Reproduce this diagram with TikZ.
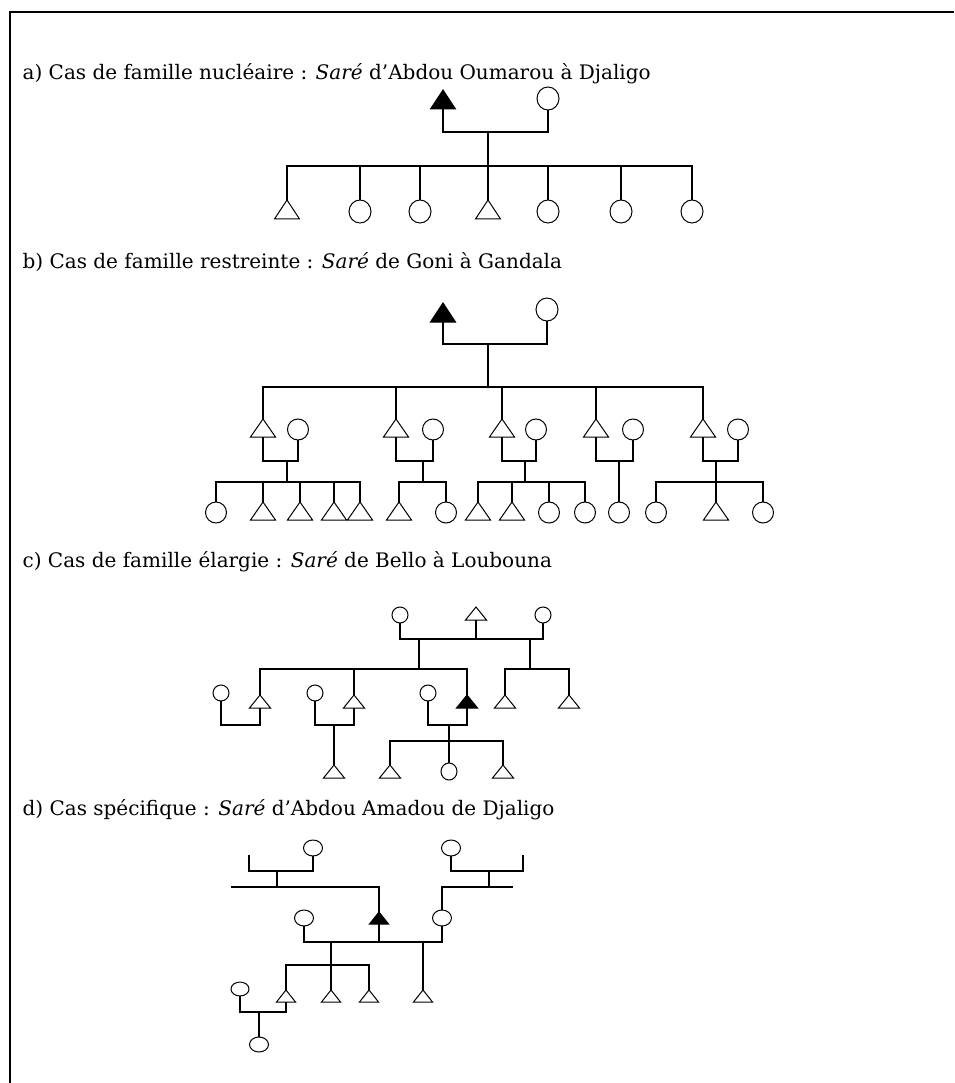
\documentclass[tikz,border=0pt]{standalone}
\usepackage{fontspec}
\setmainfont{DejaVu Serif}
\usetikzlibrary{shapes.geometric}

\begin{document}
\begin{tikzpicture}[x=1pt, y=-1pt, line width=1.3pt,
    title/.style={anchor=west, inner sep=0pt, font=\fontsize{20}{24}\selectfont},
    male/.style={isosceles triangle, isosceles triangle stretches, shape border rotate=90,
      draw, line width=1pt, inner sep=0pt, outer sep=0pt, anchor=apex},
    fem/.style={ellipse, draw, line width=1pt, inner sep=0pt, outer sep=0pt, anchor=north},
    ego/.style={fill=black},
    maleA/.style={male, minimum width=25pt, minimum height=19pt},
    femA/.style={fem, minimum width=22pt, minimum height=23pt},
    maleB/.style={male, minimum width=25pt, minimum height=18pt},
    femB/.style={fem, minimum width=21pt, minimum height=21pt},
    maleC/.style={male, minimum width=21pt, minimum height=13pt},
    femC/.style={fem, minimum width=16pt, minimum height=16pt},
    maleD/.style={male, minimum width=19pt, minimum height=12pt},
    femD/.style={fem, minimum width=19pt, minimum height=16pt},
  ]
    \useasboundingbox (0,0) rectangle (954,1083);
    \draw[line width=2pt] (10,1083) |- (954,12);

    % a) famille nucleaire
    \node[title] (ta) at (22,74) {a) Cas de famille nucléaire : \textit{Saré} d'Abdou Oumarou à Djaligo};
    \node[maleA, ego] (pa) at (443,90) {};
    \node[femA] (ma) at (548,87) {};
    \coordinate (ua) at (488,132);
    \coordinate (ba) at (488,166);
    \foreach \x/\s [count=\i] in {287/maleA,360/femA,420/femA,488/maleA,548/femA,621/femA,692/femA}
      \node[\s] (ka\i) at (\x,200) {};
    \draw (pa.lower side) |- (ua) -| (ma);
    \draw (ua) -- (ka4);
    \draw (ka1) |- (ba) -| (ka7);
    \foreach \i in {2,3,5,6}
      \draw (ba -| ka\i) -- (ka\i);

    % b) famille restreinte
    \node[title] (tb) at (22,262) {b) Cas de famille restreinte : \textit{Saré} de Goni à Gandala};
    \node[maleA, ego] (pb) at (443,303) {};
    \node[femA] (mb) at (547,298) {};
    \coordinate (ub) at (488,344);
    \coordinate (bb) at (488,387);
    \draw (pb.lower side) |- (ub) -| (mb);
    \draw (ub) -- (bb);
    \foreach \x/\w/\d [count=\i] in {263/298/287,396/433/423,502/536/525,596/633/619,703/738/716} {
      \node[maleB] (fb\i) at (\x,419) {};
      \node[femB] (wb\i) at (\w,419) {};
      \coordinate (cb\i) at (\d,461);
      \coordinate (sb\i) at (\d,482);
      \draw (fb\i) |- (cb\i) -| (wb\i);
    }
    \draw (fb1) |- (bb) -| (fb5);
    \foreach \i in {2,3,4}
      \draw (bb -| fb\i) -- (fb\i);
    \foreach \x/\s [count=\i] in {216/femB,263/maleB,300/maleB,334/maleB,360/maleB,
        399/maleB,446/femB,478/maleB,512/maleB,549/femB,585/femB,619/femB,
        656/femB,716/maleB,763/femB}
      \node[\s] (kb\i) at (\x,502) {};
    \draw (cb1) -- (sb1);
    \draw (kb1) |- (sb1) -| (kb5);
    \foreach \i in {2,3,4}
      \draw (sb1 -| kb\i) -- (kb\i);
    \draw (cb2) -- (sb2);
    \draw (kb6) |- (sb2) -| (kb7);
    \draw (cb3) -- (sb3);
    \draw (kb8) |- (sb3) -| (kb11);
    \foreach \i in {9,10}
      \draw (sb3 -| kb\i) -- (kb\i);
    \draw (cb4) -- (kb12);
    \draw (cb5) -- (kb14);
    \draw (kb13) |- (sb5) -| (kb15);

    % c) famille elargie
    \node[title] (tc) at (22,562) {c) Cas de famille élargie : \textit{Saré} de Bello à Loubouna};
    \node[femC] (gc1) at (400,607) {};
    \node[maleC] (gc2) at (476,607) {};
    \node[femC] (gc3) at (543,607) {};
    \coordinate (uc1) at (419,639);
    \coordinate (uc2) at (530,639);
    \coordinate (bc1) at (419,669);
    \coordinate (bc2) at (530,669);
    \draw (gc1) |- (uc1) -- (uc2) -| (gc3);
    \draw (gc2) -- (gc2 |- uc1);
    \draw (uc1) -- (bc1);
    \draw (uc2) -- (bc2);
    \node[maleC] (fc1) at (260,695) {};
    \node[maleC] (fc2) at (354,695) {};
    \node[maleC, ego] (fc3) at (467,695) {};
    \node[maleC] (fc4) at (505,695) {};
    \node[maleC] (fc5) at (569,695) {};
    \node[femC] (wc1) at (221,685) {};
    \node[femC] (wc2) at (315,685) {};
    \node[femC] (wc3) at (428,685) {};
    \draw (fc1) |- (bc1) -| (fc3);
    \draw (bc1 -| fc2) -- (fc2);
    \draw (fc4) |- (bc2) -| (fc5);
    \coordinate (cc1) at (240,725);
    \coordinate (cc2) at (334,725);
    \coordinate (cc3) at (449,725);
    \coordinate (sc3) at (449,741);
    \draw (wc1) |- (cc1) -| (fc1);
    \draw (wc2) |- (cc2) -| (fc2);
    \draw (wc3) |- (cc3) -| (fc3);
    \node[maleC] (kc1) at (334,765) {};
    \node[maleC] (kc2) at (390,765) {};
    \node[femC, minimum height=17pt] (kc3) at (449,763) {};
    \node[maleC] (kc4) at (503,765) {};
    \draw (cc2) -- (kc1);
    \draw (cc3) -- (kc3);
    \draw (kc2) |- (sc3) -| (kc4);

    % d) cas specifique
    \node[title] (td) at (22,810) {d) Cas spécifique : \textit{Saré} d'Abdou Amadou de Djaligo};
    \node[femD] (gd1) at (313,840) {};
    \node[femD] (gd2) at (451,840) {};
    \coordinate (xd1) at (249,855);
    \coordinate (ud1) at (277,871);
    \coordinate (vd1) at (231,887);
    \coordinate (xd2) at (523,855);
    \coordinate (ud2) at (489,871);
    \coordinate (vd2) at (513,887);
    \draw (gd1) |- (ud1) -| (xd1);
    \draw (ud1) -- (ud1 |- vd1);
    \draw (gd2) |- (ud2) -| (xd2);
    \draw (ud2) -- (ud2 |- vd2);
    \node[maleD, ego] (ed) at (379,912) {};
    \node[femD] (gd3) at (304,910) {};
    \node[femD] (gd4) at (442,910) {};
    \draw (vd1) -| (ed);
    \draw (vd2) -| (gd4);
    \coordinate (ud3) at (331,942);
    \coordinate (ud4) at (423,942);
    \coordinate (sd) at (331,965);
    \draw (gd3) |- (ud3) -- (ud4) -| (gd4);
    \draw (ed) -- (ed |- ud3);
    \node[maleD] (kd1) at (286,990) {};
    \node[maleD] (kd2) at (331,990) {};
    \node[maleD] (kd3) at (369,990) {};
    \node[maleD] (kd4) at (423,990) {};
    \draw (ud3) -- (kd2);
    \draw (kd1) |- (sd) -| (kd3);
    \draw (ud4) -- (kd4);
    \node[femD, minimum width=18pt, minimum height=14pt] (gd5) at (240,982) {};
    \node[femD, minimum height=15pt] (kd5) at (259,1037) {};
    \coordinate (ud5) at (259,1012);
    \draw (gd5) |- (ud5) -| (kd1);
    \draw (ud5) -- (kd5);
\end{tikzpicture}
\end{document}
